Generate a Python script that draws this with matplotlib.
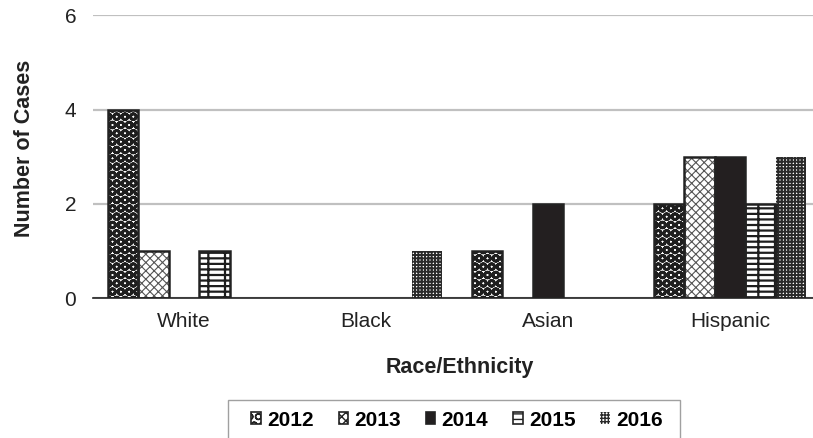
import numpy as np
import matplotlib
matplotlib.use("Agg")
import matplotlib.pyplot as plt
from matplotlib.patches import Patch, Rectangle

plt.rcParams['font.family'] = ['Liberation Sans', 'DejaVu Sans']
plt.rcParams['hatch.linewidth'] = 1.6

# data
categories = ["White", "Black", "Asian", "Hispanic"]
years = ["2012", "2013", "2014", "2015", "2016"]
cases = {
    "2012": [4, 0, 1, 2],
    "2013": [1, 0, 0, 3],
    "2014": [0, 0, 2, 3],
    "2015": [1, 0, 0, 2],
    "2016": [0, 1, 0, 3],
}

# look of each year: (facecolor, hatch colour, hatch, hatch width, outline?)
styles = {
    "2012": ("white", "#1e1e1e", "OO", 2.0, True),
    "2013": ("white", "#555555", "xxxx", 0.8, True),
    "2014": ("#231f20", "#231f20", None, 1.0, True),
    "2015": ("white", "#1e1e1e", "---|", 1.6, True),
    "2016": ("white", "#2a2a2a", "+++++", 1.4, False),
}


def set_hw(artist, lw):
    if hasattr(artist, "set_hatch_linewidth"):
        artist.set_hatch_linewidth(lw)


fig = plt.figure(figsize=(8.13, 4.38), dpi=100)
ax = fig.add_axes([93 / 813, 140 / 438, 728 / 813, 282.6 / 438])

x = np.arange(len(categories))
w = 0.168
for i, yr in enumerate(years):
    fc, hc, hatch, hw, outline = styles[yr]
    vals = np.array(cases[yr])
    keep = vals > 0
    pos = (x + (i - 2) * w)[keep]
    bars = ax.bar(pos, vals[keep], w, color=fc, edgecolor=hc, hatch=hatch, linewidth=0, zorder=3)
    for b in bars:
        set_hw(b, hw)
    if outline:
        ax.bar(pos, vals[keep], w, fill=False, edgecolor="#222222", linewidth=1.8, zorder=4)

ax.set_xlim(-0.5, 3.5)
ax.set_ylim(0, 6)
ax.set_yticks([0, 2, 4, 6])
ax.set_xticks(x)
ax.set_xticklabels(categories)
ax.tick_params(axis="both", length=0, labelsize=15, colors="#222222")
ax.tick_params(axis="y", pad=12)
ax.tick_params(axis="x", pad=10)
ax.grid(axis="y", color="#c0c0c0", linewidth=1.6, zorder=0)
ax.set_axisbelow(True)
for s in ["top", "right", "left"]:
    ax.spines[s].set_visible(False)
ax.spines["bottom"].set_color("#222222")
ax.spines["bottom"].set_linewidth(1.2)
ax.spines["bottom"].set_zorder(5)

fig.text(25 / 813, 289.5 / 438, "Number of Cases", rotation=90, ha="center", va="center",
         fontsize=15.5, fontweight="bold", color="#222222")
fig.text(460 / 813, 70 / 438, "Race/Ethnicity", ha="center", va="center",
         fontsize=15.5, fontweight="bold", color="#222222")

handles = []
for yr in years:
    fc, hc, hatch, hw, outline = styles[yr]
    p = Patch(facecolor=fc, edgecolor=hc if not outline else "#222222",
              hatch=hatch, linewidth=1.2 if outline else 0, label=yr)
    handles.append(p)
leg = fig.legend(handles=handles, loc="center", bbox_to_anchor=(457 / 813, 18 / 438),
                 ncol=5, frameon=False,
                 prop={"size": 15, "weight": "bold"}, handlelength=0.45, handleheight=0.45,
                 handletextpad=0.3, columnspacing=1.2, borderpad=0.3, borderaxespad=0)
for p in leg.get_patches():
    set_hw(p, 1.0)

# legend box, drawn by hand (wider than tall, like the original)
fig.patches.append(Rectangle((228 / 813, -2 / 438), 452 / 813, 40 / 438,
                             transform=fig.transFigure, fill=False,
                             edgecolor="#a0a0a0", linewidth=1.0))

fig.savefig("out.png", dpi=100)
